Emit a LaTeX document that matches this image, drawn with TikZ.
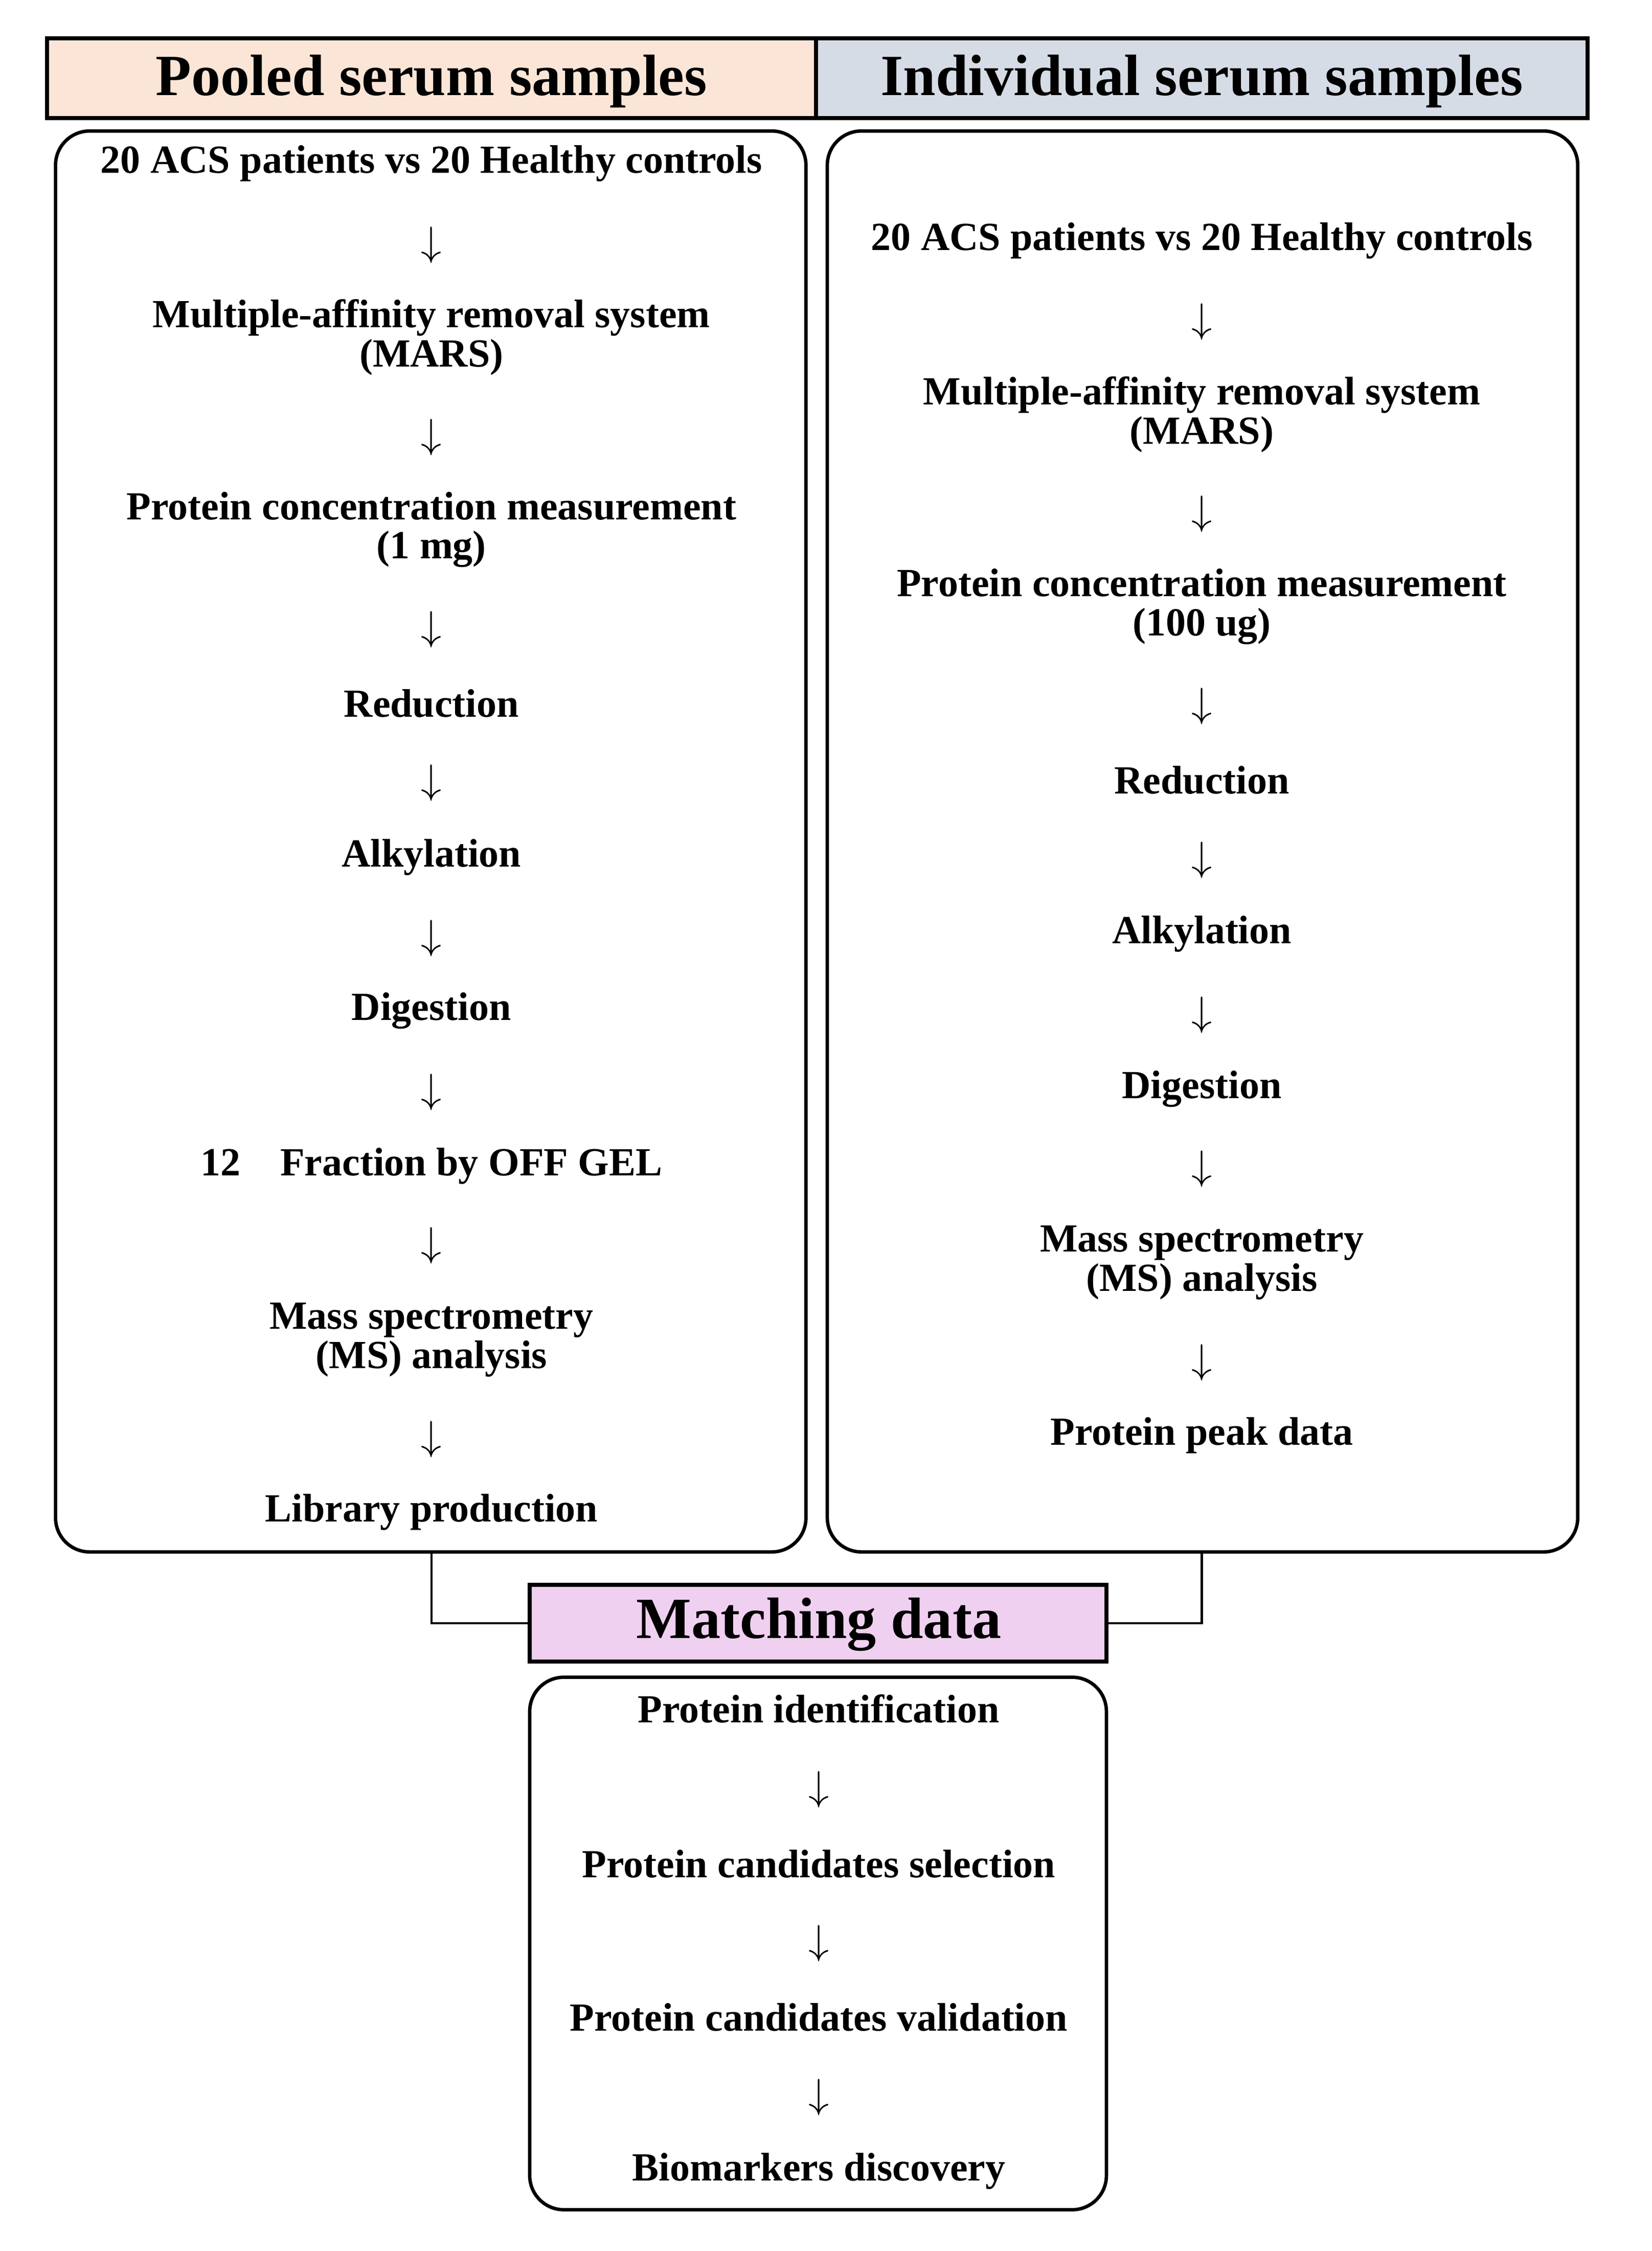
\documentclass[tikz,border=0pt]{standalone}
\usepackage{fontspec}
\setmainfont{Liberation Serif}
\begin{document}
\begin{tikzpicture}[x=0.5pt,y=-0.5pt,
  t/.style={font=\fontsize{14}{13.8}\selectfont\bfseries,align=center,inner sep=0pt},
  ar/.style={font=\fontsize{15}{15}\selectfont,inner sep=0pt},
  hd/.style={font=\fontsize{20.5}{22}\selectfont\bfseries,inner sep=0pt},
  box/.style={draw,line width=1.2pt,rounded corners=12pt},
  ln/.style={draw,line width=0.8pt}]
\useasboundingbox (0,0) rectangle (1160,1581);
\fill[fill=white] (0,0) rectangle (1160,1581);
% headers
\draw[line width=1.5pt,fill={rgb,255:red,251;green,229;blue,214}] (33,27) rectangle (573,83);
\draw[line width=1.5pt,fill={rgb,255:red,214;green,220;blue,229}] (573,27) rectangle (1115,83);
\node[hd] (h1) at (303,57) {Pooled serum samples};
\node[hd] (h2) at (844,57) {Individual serum samples};
% boxes
\draw[box] (39,92) rectangle (566,1090);
\draw[box] (581,92) rectangle (1108,1090);
\draw[line width=1.5pt,fill={rgb,255:red,240;green,208;blue,240}] (372,1113) rectangle (777,1167);
\node[hd] (m) at (575,1141) {Matching data};
\draw[box] (372,1178) rectangle (777,1552);
\coordinate (lbot) at (303,1090);
\coordinate (rbot) at (844,1090);
\coordinate (mL) at (372,1140);
\coordinate (mR) at (777,1140);
\draw[ln] (lbot) |- (mL);
\draw[ln] (rbot) |- (mR);
% left column
\foreach \n/\y/\s in {l1/115/{20 ACS patients vs 20 Healthy controls},
  l2/237/{Multiple-affinity removal system\\(MARS)},
  l3/372/{Protein concentration measurement\\(1 mg)},
  l4/494/{Reduction},l5/602/{Alkylation},l6/710/{Digestion},
  l7/819/{12\quad Fraction by OFF GEL},
  l8/941/{Mass spectrometry\\(MS) analysis},
  l9/1062/{Library production}}
  \node[t] (\n) at (303,\y) {\s};
\foreach \n/\y in {la1/172,la2/307,la3/442,la4/550,la5/659,la6/767,la7/875,la8/1011}
  \node[ar] (\n) at (303,\y) {$\downarrow$};
% right column
\foreach \n/\y/\s in {r1/169/{20 ACS patients vs 20 Healthy controls},
  r2/291/{Multiple-affinity removal system\\(MARS)},
  r3/426/{Protein concentration measurement\\(100 ug)},
  r4/548/{Reduction},r5/656/{Alkylation},r6/765/{Digestion},
  r7/887/{Mass spectrometry\\(MS) analysis},
  r8/1008/{Protein peak data}}
  \node[t] (\n) at (844,\y) {\s};
\foreach \n/\y in {ra1/226,ra2/361,ra3/496,ra4/604,ra5/713,ra6/821,ra7/957}
  \node[ar] (\n) at (844,\y) {$\downarrow$};
% bottom
\foreach \n/\y/\s in {b1/1200/{Protein identification},b2/1309/{Protein candidates selection},
  b3/1417/{Protein candidates validation},b4/1525/{Biomarkers discovery}}
  \node[t] (\n) at (575,\y) {\s};
\foreach \n/\y in {ba1/1257,ba2/1365,ba3/1473}
  \node[ar] (\n) at (575,\y) {$\downarrow$};
\end{tikzpicture}
\end{document}
